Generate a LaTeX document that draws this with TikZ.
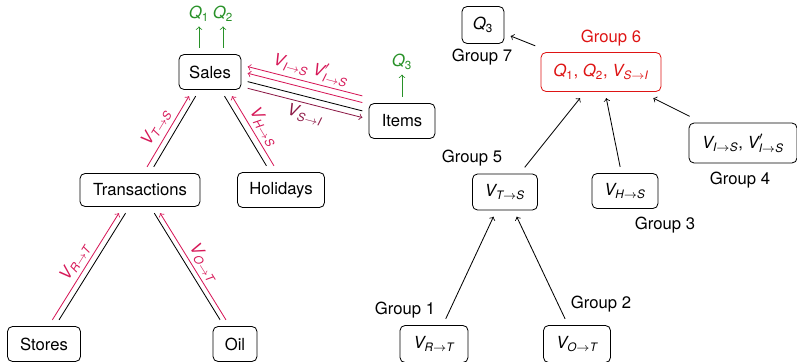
\documentclass[tikz,border=0pt]{standalone}
\usepackage{amsmath}
\usepackage{fontspec}
\setmainfont{TeX Gyre Heros}
\definecolor{edgered}{RGB}{214,24,88}
\definecolor{maroonish}{RGB}{140,25,70}
\definecolor{qgreen}{RGB}{40,145,40}
\definecolor{grpred}{RGB}{222,20,20}
\newcommand{\myV}[2]{$\textit{V}_{\textit{#1}\rightarrow\textit{#2}}$}
\newcommand{\myVp}[2]{$\textit{V}'_{\textit{#1}\rightarrow\textit{#2}}$}
\newcommand{\myQ}[1]{$\textit{Q}_{\text{#1}}$}
\begin{document}
\begin{tikzpicture}[x=0.6pt,y=-0.6pt,
  every node/.style={font=\fontsize{10}{12}\selectfont},
  box/.style={draw, rounded corners=3pt, line width=0.5pt, outer sep=4pt, inner sep=2pt},
  lbl/.style={inner sep=1pt},
  qlbl/.style={text=qgreen, inner sep=1pt, outer sep=2pt},
  grp/.style={inner sep=1pt},
  plain/.style={line width=0.5pt},
  redarr/.style={->, edgered, line width=0.5pt},
  mararr/.style={->, maroonish, line width=0.5pt},
  garr/.style={->, qgreen, line width=0.5pt},
  darr/.style={->, line width=0.5pt}
]
\useasboundingbox (0,0) rectangle (797,362);

% ---------- left graph ----------
\node[box, minimum width=37.2pt, minimum height=21pt] (sa) at (210,72) {Sales};
\node[box, minimum width=39.6pt, minimum height=21pt] (it) at (402,121) {Items};
\node[box, minimum width=72pt, minimum height=19.8pt] (tr) at (140,190) {Transactions};
\node[box, minimum width=52.2pt, minimum height=21pt] (ho) at (281,190) {Holidays};
\node[box, minimum width=43.8pt, minimum height=21pt] (st) at (44,344) {Stores};
\node[box, minimum width=26.4pt, minimum height=21pt] (oi) at (235,344) {Oil};

\node[qlbl] (q1) at (199,14) {\myQ{1}};
\node[qlbl] (q2) at (223,14) {\myQ{2}};
\node[qlbl] (q3) at (402,62) {\myQ{3}};
\draw[garr] (sa.north -| q1) -- (q1);
\draw[garr] (sa.north -| q2) -- (q2);
\draw[garr] (it.north -| q3) -- (q3);

% Transactions - Sales
\draw[plain] (tr) -- (sa);
\draw[redarr, transform canvas={xshift=-4pt}] (tr) -- (sa);
% Holidays - Sales
\draw[plain] (ho) -- (sa);
\draw[redarr, transform canvas={xshift=4.5pt}] (ho) -- (sa);
% Stores - Transactions
\draw[plain] (st) -- (tr);
\draw[redarr, transform canvas={xshift=-4pt}] (st) -- (tr);
% Oil - Transactions
\draw[plain] (oi) -- (tr);
\draw[redarr, transform canvas={xshift=3.5pt}] (oi) -- (tr);
% Items - Sales
\draw[plain] (sa) -- (it);
\draw[redarr, transform canvas={yshift=9pt}] (it) -- (sa);
\draw[redarr, transform canvas={yshift=5pt}] (it) -- (sa);
\draw[mararr, transform canvas={yshift=-4pt}] (sa) -- (it);

% edge labels
\node[lbl, text=edgered, rotate=-14.3] (lis) at (311,69) {\myV{I}{S} \myVp{I}{S}};
\node[lbl, text=maroonish, rotate=-14.3] (lsi) at (305,115) {\myV{S}{I}};
\node[lbl, text=edgered, rotate=59] (lts) at (156,127) {\myV{T}{S}};
\node[lbl, text=edgered, rotate=-59] (lhs) at (264,127) {\myV{H}{S}};
\node[lbl, text=edgered, rotate=58] (lrt) at (75,262) {\myV{R}{T}};
\node[lbl, text=edgered, rotate=-58] (lot) at (204,263) {\myV{O}{T}};

% ---------- right graph ----------
\node[box, minimum width=25.2pt, minimum height=22.2pt] (g7) at (483,25) {\myQ{3}};
\node[box, draw=grpred, text=grpred, minimum width=72pt, minimum height=23.4pt] (g6) at (601,72) {\myQ{1}, \myQ{2}, \myV{S}{I}};
\node[box, minimum width=39pt, minimum height=21.6pt] (g5) at (505,192) {\myV{T}{S}};
\node[box, minimum width=39.6pt, minimum height=21pt] (g3) at (625,191) {\myV{H}{S}};
\node[box, minimum width=64.8pt, minimum height=24pt] (g4) at (743,143) {\myV{I}{S}, \myVp{I}{S}};
\node[box, minimum width=40.8pt, minimum height=22.2pt] (g1) at (434,344) {\myV{R}{T}};
\node[box, minimum width=40.2pt, minimum height=22.2pt] (g2) at (577,344) {\myV{O}{T}};

\node[grp] (t7) at (482,57) {Group 7};
\node[grp, text=grpred] (t6) at (611,38) {Group 6};
\node[grp] (t5) at (472,158) {Group 5};
\node[grp] (t3) at (665,225) {Group 3};
\node[grp] (t4) at (740,180) {Group 4};
\node[grp] (t1) at (405,310) {Group 1};
\node[grp] (t2) at (601,304) {Group 2};

\draw[darr] (g1) -- (g5);
\draw[darr] (g2) -- (g5);
\draw[darr] (g5) -- (g6);
\draw[darr] (g3) -- (g6);
\draw[darr] (g4) -- (g6);
\draw[darr] (g6) -- (g7);
\end{tikzpicture}
\end{document}
